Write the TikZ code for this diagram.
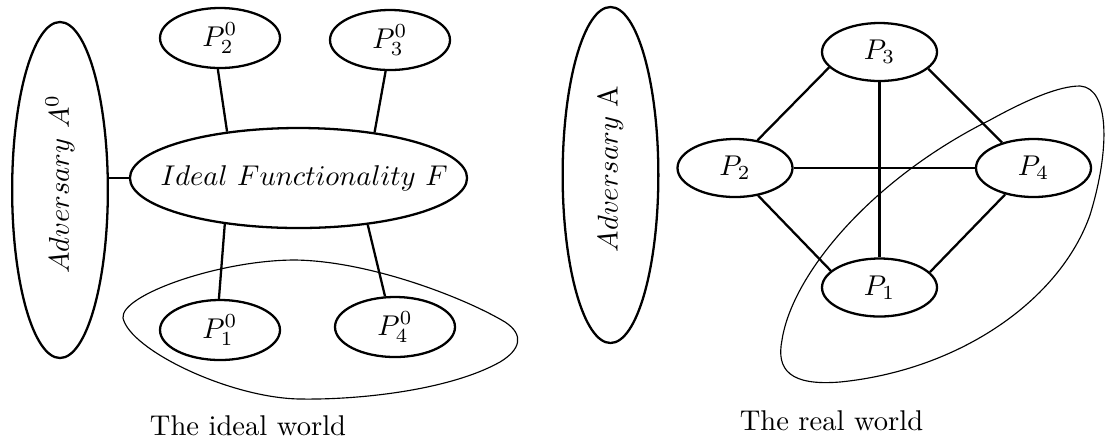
\documentclass[tikz,border=0pt]{standalone}
\usepackage{graphicx}
\usetikzlibrary{shapes.geometric}
\begin{document}
\begin{tikzpicture}[x=0.35pt,y=-0.35pt,
  party/.style={draw, ellipse, line width=0.8pt, inner sep=0pt, minimum width=42pt, minimum height=21pt},
  rparty/.style={party, minimum width=40.25pt, minimum height=20.3pt},
  adv/.style={draw, ellipse, line width=0.8pt, inner sep=0pt, minimum width=33.5pt, minimum height=117.6pt},
  link/.style={line width=0.8pt},
  blob/.style={line width=0.4pt},
  caption/.style={anchor=base, inner sep=0pt}]
\useasboundingbox (0,0) rectangle (1107,441);

% ---------- ideal world ----------
\node[adv] (A0) at (60,190) {\rotatebox{90}{\hspace*{4.2pt}$Adversary\ A^0$}};
\node[draw, ellipse, line width=0.8pt, inner sep=0pt, minimum width=118pt, minimum height=35pt,
      label={[xshift=2pt]center:$Ideal\ Functionality\ F$}] (F) at (298.5,178) {};
\node[party] (P20) at (220,38) {$P_2^0$};
\node[party] (P30) at (390,40) {$P_3^0$};
\node[party] (P10) at (220,330) {$P_1^0$};
\node[party] (P40) at (395,327) {$P_4^0$};

\draw[link] (F.west) -- (F.west -| A0.east);
\draw[link] (P20.266) -- (F.147.6);
\draw[link] (P30.262.4) -- (F.31.5);
\draw[link] (F.212.8) -- (P10.92);
\draw[link] (F.326.7) -- (P40.108.4);

\draw[blob] (123,318) .. controls (120,295) and (220,260) .. (295,260)
  .. controls (370,261) and (465,298) .. (505,322)
  .. controls (525,335) and (520,350) .. (500,362)
  .. controls (450,390) and (360,400) .. (300,399)
  .. controls (230,398) and (130,350) .. (123,318) -- cycle;

\node[caption] (cap1) at (248,435) {The ideal world};

% ---------- real world ----------
\node[adv] (A) at (610.5,175) {\rotatebox{90}{\hspace*{4.2pt}$Adversary\ \mathrm{A}$}};
\node[rparty] (P3) at (879.5,52) {$P_3$};
\node[rparty] (P2) at (735,168) {$P_2$};
\node[rparty] (P4) at (1033.5,168) {$P_4$};
\node[rparty] (P1) at (879.5,287.5) {$P_1$};

\draw[link] (P2) -- (P4);
\draw[link] (P3) -- (P1);
\draw[link] (P3.197.6) -- (P2.51.6);
\draw[link] (P3.341.4) -- (P4.141.8);
\draw[link] (P2.310.2) -- (P1.161.9);
\draw[link] (P4.223.5) -- (P1.17.4);

\draw[blob] (1080,86) .. controls (1110,88) and (1110,150) .. (1090,215)
  .. controls (1060,300) and (960,370) .. (840,382)
  .. controls (790,386) and (776,370) .. (782,340)
  .. controls (792,275) and (870,180) .. (990,120)
  .. controls (1030,98) and (1060,86) .. (1080,86) -- cycle;

\node[caption] (cap2) at (831.5,430) {The real world};
\end{tikzpicture}
\end{document}
